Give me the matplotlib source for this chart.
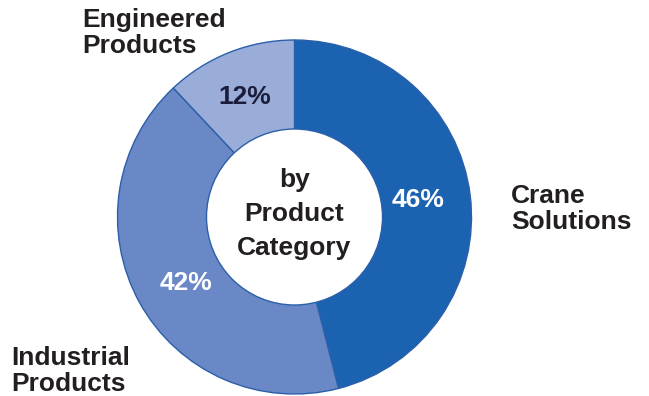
import matplotlib.pyplot as plt
from matplotlib.patches import Circle

categories = ['Crane\nSolutions', 'Industrial\nProducts', 'Engineered\nProducts']
shares = [46, 42, 12]
colors = ['#1b63b1', '#6a88c6', '#9aadd9']
pct_colors = ['white', 'white', '#1c1d3a']

plt.rcParams['font.family'] = ['Liberation Sans', 'DejaVu Sans']

fig = plt.figure(figsize=(6.49, 3.96), dpi=100)
ax = fig.add_axes([0, 0, 1, 1])

cx, cy, r = 294.5, 179, 177
wedges, _ = ax.pie(shares, colors=colors, startangle=90, counterclock=False,
                   center=(cx, cy), radius=r, frame=True,
                   wedgeprops=dict(edgecolor='#2b5fa9', linewidth=1.0))
ax.set_xlim(0, 649)
ax.set_ylim(0, 396)
ax.set_aspect('equal')
ax.axis('off')

ax.add_patch(Circle((cx, cy), 88, facecolor='white', edgecolor='#2b5fa9',
                    linewidth=1.0, zorder=3))

txt = dict(fontsize=19, fontweight='bold', color='#231f20')

# percentage labels
pct_pos = [(418, 196), (186, 113), (245, 299)]
for (x, y), s, c in zip(pct_pos, shares, pct_colors):
    ax.text(x, y, f'{s}%', ha='center', va='center', zorder=4,
            **{**txt, 'color': c})

# category labels
lab_pos = [(511, 187), (11, 25), (82, 363)]
for (x, y), lab in zip(lab_pos, categories):
    ax.text(x, y, lab, ha='left', va='center', linespacing=1.1, **txt)

ax.text(cx, 182, 'by\nProduct\nCategory', ha='center', va='center',
        linespacing=1.55, zorder=4, **txt)

fig.savefig('out.png', dpi=100)
